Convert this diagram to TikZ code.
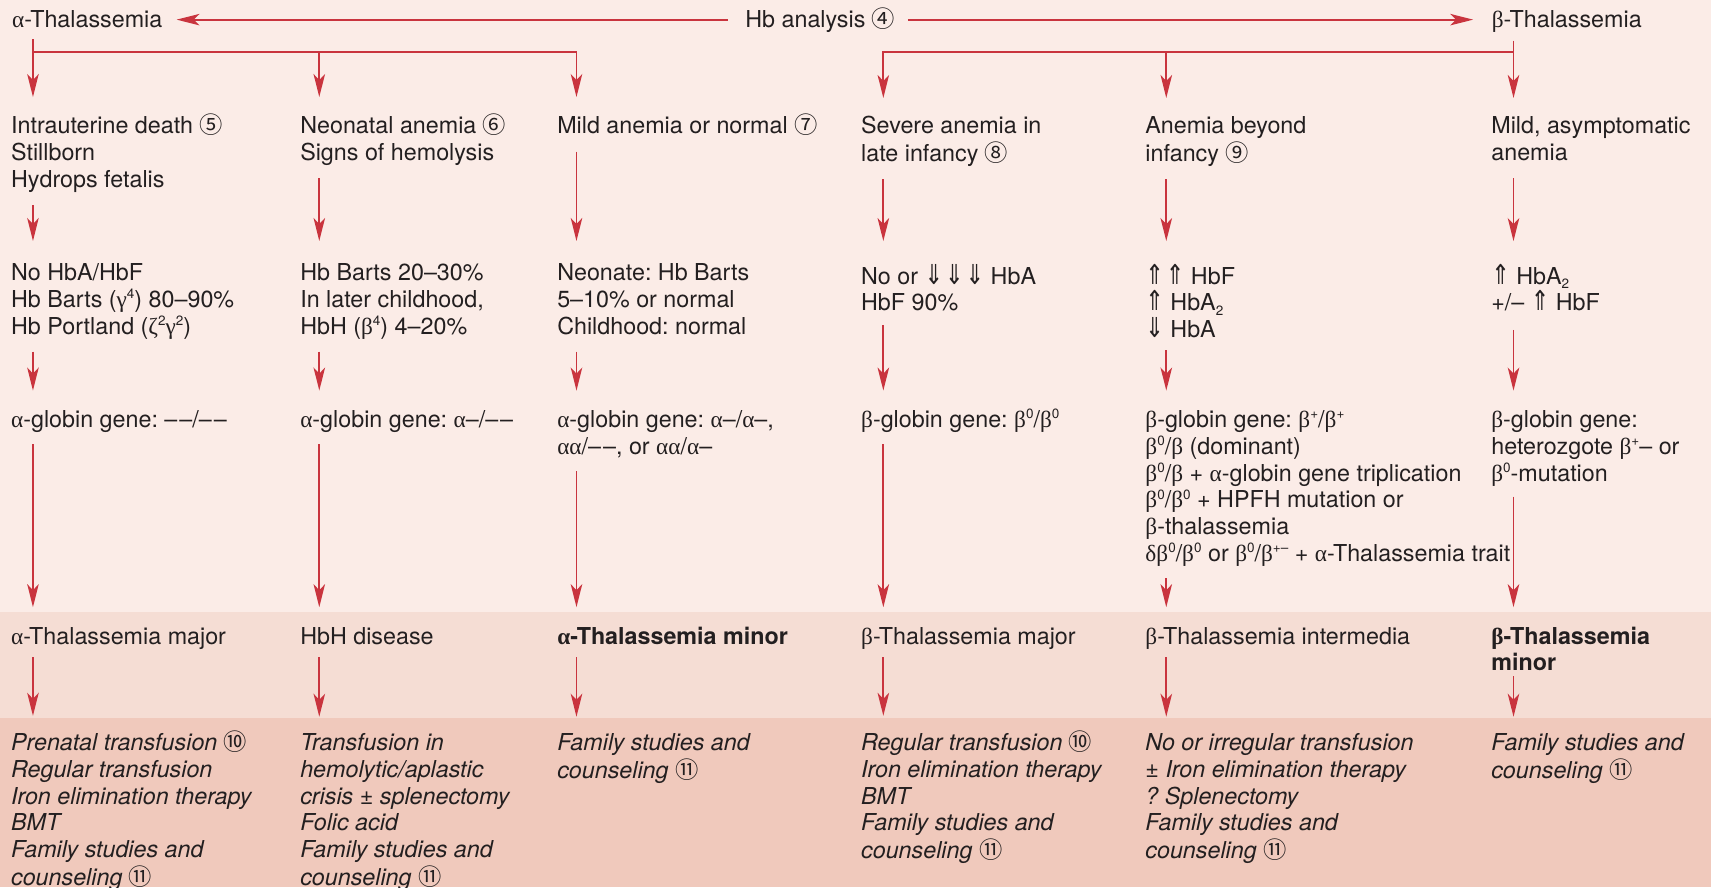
\documentclass[tikz,border=0pt]{standalone}
\usepackage{fontspec}
\usepackage{graphicx}
\setmainfont{TeX Gyre Heros}
\newfontfamily\grkfont{Liberation Serif}
\newfontfamily\arrfont{DejaVu Sans}
\newfontfamily\circfont{Noto Sans CJK SC}[Scale=1.0]
\usetikzlibrary{arrows.meta}

\definecolor{bgtop}{RGB}{251,236,231}
\definecolor{bgmid}{RGB}{245,221,212}
\definecolor{bgbot}{RGB}{240,201,188}
\definecolor{ink}{RGB}{35,31,32}
\definecolor{flow}{RGB}{201,52,62}

% Greek letters in a serif face, symbols from other families
\newcommand\galpha{{\grkfont α}}
\newcommand\gbeta{{\grkfont β}}
\newcommand\ggamma{{\grkfont γ}}
\newcommand\gzeta{{\grkfont ζ}}
\newcommand\gdelta{{\grkfont δ}}
\newcommand\cnum[1]{{\upshape\circfont #1}}
% tall double arrows that keep the line height unchanged
\newcommand\arU{\raisebox{0pt}[16pt][0pt]{\scalebox{0.95}[1.18]{\arrfont ⇑}}}
\newcommand\arD{\raisebox{0pt}[16pt][0pt]{\scalebox{0.95}[1.18]{\arrfont ⇓}}}
\newcommand\supr[1]{\raisebox{0.72ex}{\fontsize{13.5pt}{13.5pt}\selectfont #1}}
\newcommand\subr[1]{\raisebox{-0.35ex}{\fontsize{13.5pt}{13.5pt}\selectfont #1}}
\newcommand\dashpair{–\kern2pt–}
\newcommand\txtblock[1]{\begin{tabular}[t]{@{}l@{}}#1\end{tabular}}

\begin{document}
\frenchspacing
\begin{tikzpicture}[x=1.0912pt, y=-1.0912pt,
  every node/.style={font=\fontsize{23.3pt}{26.8pt}\selectfont},
  txt/.style={anchor=base west, inner sep=0pt, text=ink},
  treat/.style={txt, font=\fontsize{23.3pt}{26.8pt}\selectfont\itshape},
  strong/.style={txt, font=\fontsize{23.3pt}{26.8pt}\selectfont\bfseries},
  head/.style={inner sep=0pt, text=ink, text height=16.7pt, text depth=0pt},
  arr/.style={draw=flow, line width=1.8pt, -{Stealth[length=23pt,width=11.5pt,inset=6pt]}},
  sh/.style 2 args={shorten <=#1pt, shorten >=#2pt}]

\useasboundingbox (0,0) rectangle (1568,813);
\clip (0,0) rectangle (1568,813);

% background bands
\fill[bgtop] (0,0) rectangle (1568,561);
\fill[bgmid] (0,561) rectangle (1568,657.7);
\fill[bgbot] (0,657.7) rectangle (1568,813);

% arrow columns and branch bar
\coordinate (ax1) at (30.2,0);
\coordinate (ax2) at (292.6,0);
\coordinate (ax3) at (528.3,0);
\coordinate (ax4) at (809.5,0);
\coordinate (ax5) at (1068.8,0);
\coordinate (ax6) at (1387,0);
\coordinate (bar) at (0,48);

% header
\node[head, anchor=west] (alpha) at (11,18) {\galpha-Thalassemia};
\node[head] (hb) at (751.7,18) {Hb analysis \cnum{④}};
\node[head, anchor=west] (beta) at (1367,18) {\gbeta-Thalassemia};

% row 1: clinical picture
\node[txt] (r1c1) at (10,122.3) {\txtblock{Intrauterine death \cnum{⑤}\\Stillborn\\Hydrops fetalis}};
\node[txt] (r1c2) at (275,122.3) {\txtblock{Neonatal anemia \cnum{⑥}\\Signs of hemolysis}};
\node[txt] (r1c3) at (510.5,122.3) {\txtblock{Mild anemia or normal \cnum{⑦}}};
\node[txt] (r1c4) at (789,122.3) {\txtblock{Severe anemia in\\late infancy \cnum{⑧}}};
\node[txt] (r1c5) at (1049.5,122.3) {\txtblock{Anemia beyond\\infancy \cnum{⑨}}};
\node[txt] (r1c6) at (1366.5,122.3) {\txtblock{Mild, asymptomatic\\anemia}};

% row 2: hemoglobin findings
\node[txt] (r2c1) at (10,257.3) {\txtblock{No HbA/HbF\\Hb Barts (\ggamma\supr{4}) 80–90\%\\Hb Portland (\gzeta\supr{2}\ggamma\supr{2})}};
\node[txt] (r2c2) at (275,257.3) {\txtblock{Hb Barts 20–30\%\\In later childhood,\\HbH (\gbeta\supr{4}) 4–20\%}};
\node[txt] (r2c3) at (510.5,257.3) {\txtblock{Neonate: Hb Barts\\5–10\% or normal\\Childhood: normal}};
\node[txt] (r2c4) at (789,260.3) {\txtblock{No or \arD\kern2pt\arD\kern2pt\arD{} HbA\\HbF 90\%}};
\node[txt] (r2c5) at (1049.5,260.3) {\txtblock{\arU\kern2pt\arU{} HbF\\\arU{} HbA\subr{2}\\\arD{} HbA}};
\node[txt] (r2c6) at (1366.5,260.3) {\txtblock{\arU{} HbA\subr{2}\\+/– \arU{} HbF}};

% row 3: genotype
\node[txt] (r3c1) at (10,391.8) {\txtblock{\galpha-globin gene: \dashpair/\dashpair}};
\node[txt] (r3c2) at (275,391.8) {\txtblock{\galpha-globin gene: \galpha–/\dashpair}};
\node[txt] (r3c3) at (510.5,391.8) {\txtblock{\galpha-globin gene: \galpha–/\galpha–,\\\galpha\galpha/\dashpair, or \galpha\galpha/\galpha–}};
\node[txt] (r3c4) at (789,391.8) {\txtblock{\gbeta-globin gene: \gbeta\supr{0}/\gbeta\supr{0}}};
\node[txt] (r3c5) at (1049.5,391.8) {\txtblock{\gbeta-globin gene: \gbeta\supr{+}/\gbeta\supr{+}\\
  \gbeta\supr{0}/\gbeta{} (dominant)\\
  \gbeta\supr{0}/\gbeta{} + \galpha-globin gene triplication\\
  \gbeta\supr{0}/\gbeta\supr{0} + HPFH mutation or\\
  \gbeta-thalassemia\\
  \gdelta\gbeta\supr{0}/\gbeta\supr{0} or \gbeta\supr{0}/\gbeta\supr{+–} + \galpha-Thalassemia trait}};
\node[txt] (r3c6) at (1366.5,391.8) {\txtblock{\gbeta-globin gene:\\heterozgote \gbeta\supr{+}– or\\\gbeta\supr{0}-mutation}};

% row 4: diagnosis
\node[txt] (r4c1) at (10,590.3) {\txtblock{\galpha-Thalassemia major}};
\node[txt] (r4c2) at (275,590.3) {\txtblock{HbH disease}};
\node[strong] (r4c3) at (510.5,590.3) {\txtblock{\galpha-Thalassemia minor}};
\node[txt] (r4c4) at (789,590.3) {\txtblock{\gbeta-Thalassemia major}};
\node[txt] (r4c5) at (1049.5,590.3) {\txtblock{\gbeta-Thalassemia intermedia}};
\node[strong] (r4c6) at (1366.5,590.3) {\txtblock{\gbeta-Thalassemia\\minor}};

% row 5: management
\node[treat] (r5c1) at (10,687.8) {\txtblock{Prenatal transfusion \cnum{⑩}\\Regular transfusion\\Iron elimination therapy\\BMT\\Family studies and\\counseling \cnum{⑪}}};
\node[treat] (r5c2) at (275,687.8) {\txtblock{Transfusion in\\hemolytic/aplastic\\crisis ± splenectomy\\Folic acid\\Family studies and\\counseling \cnum{⑪}}};
\node[treat] (r5c3) at (510.5,687.8) {\txtblock{Family studies and\\counseling \cnum{⑪}}};
\node[treat] (r5c4) at (789,687.8) {\txtblock{Regular transfusion \cnum{⑩}\\Iron elimination therapy\\BMT\\Family studies and\\counseling \cnum{⑪}}};
\node[treat] (r5c5) at (1049.5,687.8) {\txtblock{No or irregular transfusion\\± Iron elimination therapy\\? Splenectomy\\Family studies and\\counseling \cnum{⑪}}};
\node[treat] (r5c6) at (1366.5,687.8) {\txtblock{Family studies and\\counseling \cnum{⑪}}};

% header arrows
\draw[arr, sh={17.5}{14}] (hb.west) -- (alpha.east);
\draw[arr, sh={12.5}{18.5}] (hb.east) -- (beta.west);

% alpha branch
\draw[arr, sh={11.3}{16.5}] (alpha.south -| ax1) -- (r1c1.north -| ax1);
\draw[arr, sh={0}{16.5}] (ax1 |- bar) -| (r1c3.north -| ax3);
\draw[arr, sh={0}{16.5}] (ax2 |- bar) -- (r1c2.north -| ax2);

% beta branch
\draw[arr, sh={12.4}{16.5}] (beta.south -| ax6) -- (r1c6.north -| ax6);
\draw[arr, sh={0}{16.5}] (ax6 |- bar) -| (r1c4.north -| ax4);
\draw[arr, sh={0}{16.5}] (ax5 |- bar) -- (r1c5.north -| ax5);

% row 1 -> row 2
\draw[arr, sh={10}{20.8}] (r1c1.south -| ax1) -- (r2c1.north -| ax1);
\draw[arr, sh={10}{20.8}] (r1c2.south -| ax2) -- (r2c2.north -| ax2);
\draw[arr, sh={10}{20.8}] (r1c3.south -| ax3) -- (r2c3.north -| ax3);
\draw[arr, sh={10}{24}] (r1c4.south -| ax4) -- (r2c4.north -| ax4);
\draw[arr, sh={10}{24}] (r1c5.south -| ax5) -- (r2c5.north -| ax5);
\draw[arr, sh={10}{24}] (r1c6.south -| ax6) -- (r2c6.north -| ax6);

% row 2 -> row 3
\draw[arr, sh={9}{18}] (r2c1.south -| ax1) -- (r3c1.north -| ax1);
\draw[arr, sh={9}{18}] (r2c2.south -| ax2) -- (r3c2.north -| ax2);
\draw[arr, sh={9}{18}] (r2c3.south -| ax3) -- (r3c3.north -| ax3);
\draw[arr, sh={6.3}{18}] (r2c4.south -| ax4) -- (r3c4.north -| ax4);
\draw[arr, sh={4.6}{18}] (r2c5.south -| ax5) -- (r3c5.north -| ax5);
\draw[arr, sh={10.7}{18}] (r2c6.south -| ax6) -- (r3c6.north -| ax6);

% row 3 -> row 4
\draw[arr, sh={8.5}{18}] (r3c1.south -| ax1) -- (r4c1.north -| ax1);
\draw[arr, sh={8.5}{18}] (r3c2.south -| ax2) -- (r4c2.north -| ax2);
\draw[arr, sh={8.5}{18}] (r3c3.south -| ax3) -- (r4c3.north -| ax3);
\draw[arr, sh={8.5}{18}] (r3c4.south -| ax4) -- (r4c4.north -| ax4);
\draw[arr, sh={8.5}{18}] (r3c5.south -| ax5) -- (r4c5.north -| ax5);
\draw[arr, sh={7.3}{18}] (r3c6.south -| ax6) -- (r4c6.north -| ax6);

% row 4 -> row 5
\draw[arr, sh={4.7}{14.8}] (r4c1.south -| ax1) -- (r5c1.north -| ax1);
\draw[arr, sh={4.7}{14.8}] (r4c2.south -| ax2) -- (r5c2.north -| ax2);
\draw[arr, sh={4.7}{14.8}] (r4c3.south -| ax3) -- (r5c3.north -| ax3);
\draw[arr, sh={4.7}{14.8}] (r4c4.south -| ax4) -- (r5c4.north -| ax4);
\draw[arr, sh={4.7}{14.8}] (r4c5.south -| ax5) -- (r5c5.north -| ax5);
\draw[arr, sh={-3}{14.8}] (r4c6.south -| ax6) -- (r5c6.north -| ax6);
\end{tikzpicture}
\end{document}
